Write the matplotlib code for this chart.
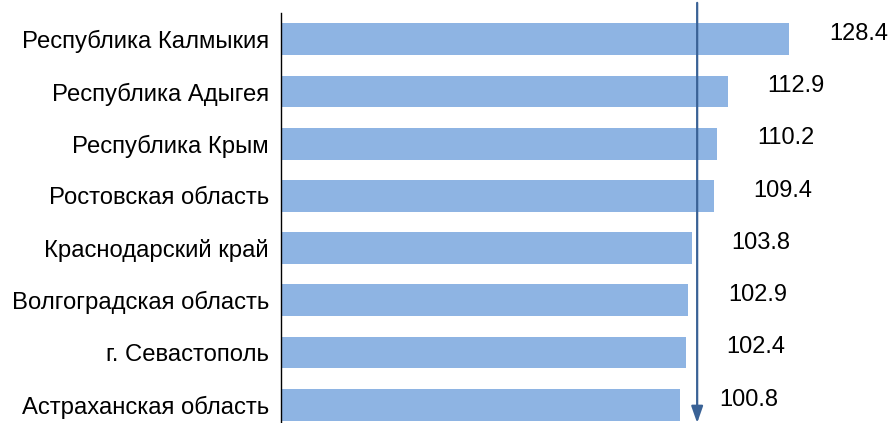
import matplotlib.pyplot as plt

plt.rcParams["font.family"] = ["Liberation Sans", "DejaVu Sans"]

regions = [
    "Республика Калмыкия",
    "Республика Адыгея",
    "Республика Крым",
    "Ростовская область",
    "Краснодарский край",
    "Волгоградская область",
    "г. Севастополь",
    "Астраханская область",
]
values = [128.4, 112.9, 110.2, 109.4, 103.8, 102.9, 102.4, 100.8]
mark_value = 105.1

bar_color = "#8EB4E3"
arrow_color = "#3A6296"

fig = plt.figure(figsize=(8.92, 4.23), dpi=100)
ax = fig.add_axes([0.3155, 0.0, 0.5765, 0.969])

ypos = list(range(len(regions)))
ax.barh(ypos, values, height=0.61, color=bar_color)
ax.set_yticks(ypos)
ax.set_yticklabels(regions, fontsize=17.2)
ax.tick_params(axis="y", length=0, pad=9)
ax.set_xticks([])
ax.set_xlim(0, 130)
ax.set_ylim(7.35, -0.5)

for s in ["top", "right", "bottom"]:
    ax.spines[s].set_visible(False)
ax.spines["left"].set_color("black")
ax.spines["left"].set_linewidth(1.0)

for y, v in zip(ypos, values):
    ax.text(v + 10, y - 0.1, f"{v:.1f}", fontsize=17, va="center", ha="left",
            clip_on=False)

ax.annotate(
    "",
    xy=(mark_value, 0.0),
    xycoords=("data", "axes fraction"),
    xytext=(mark_value, 1.025),
    textcoords=("data", "axes fraction"),
    arrowprops=dict(arrowstyle="-|>,head_length=1.0,head_width=0.35",
                    color=arrow_color, lw=1.6, shrinkA=0, shrinkB=0),
    annotation_clip=False,
)

fig.savefig("out.png", dpi=100)
